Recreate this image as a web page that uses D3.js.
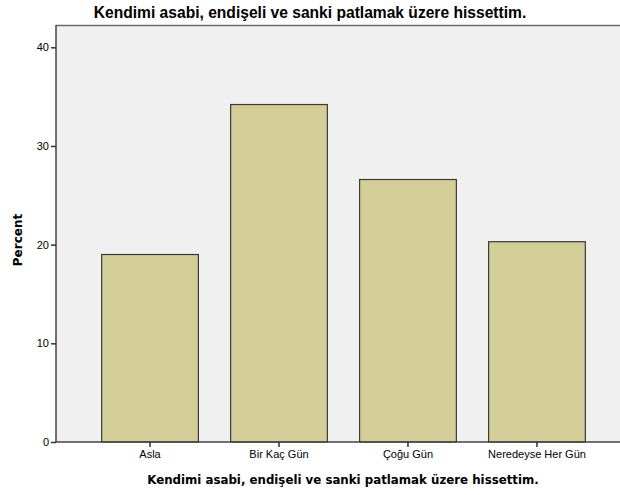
<!DOCTYPE html>
<html>
<head>
<meta charset="utf-8">
<script src="https://cdn.jsdelivr.net/npm/d3@7"></script>
<style>
  body { margin: 0; background: #fff; }
  svg { display: block; }
</style>
</head>
<body>
<svg width="620" height="495"></svg>
<script>
// category labels and percent values
const categories = ['Asla', 'Bir Kaç Gün', 'Çoğu Gün', 'Neredeyse Her Gün'];
const percents = [19.0, 34.2, 26.6, 20.3];
const yTicks = [0, 10, 20, 30, 40];
const title = 'Kendimi asabi, endişeli ve sanki patlamak üzere hissettim.';

const svg = d3.select('svg');

const plot = { left: 56, top: 25, right: 631, bottom: 442 };

const x = d3.scaleBand()
  .domain(categories)
  .range([plot.left, plot.right])
  .paddingInner(0.25)
  .paddingOuter(0.354);

const y = d3.scaleLinear().domain([0, 42.26]).range([plot.bottom, plot.top]);

// plot background
svg.append('rect')
  .attr('x', plot.left)
  .attr('y', plot.top)
  .attr('width', plot.right - plot.left)
  .attr('height', plot.bottom - plot.top)
  .attr('fill', '#f0f0f0');

// top frame line
svg.append('line')
  .attr('x1', plot.left).attr('x2', plot.right)
  .attr('y1', plot.top + 0.5).attr('y2', plot.top + 0.5)
  .attr('stroke', '#6a6a6a').attr('stroke-width', 1.5);

// bars
svg.selectAll('rect.bar')
  .data(percents)
  .enter()
  .append('rect')
  .attr('class', 'bar')
  .attr('x', (d, i) => x(categories[i]))
  .attr('y', (d) => y(d))
  .attr('width', x.bandwidth())
  .attr('height', (d) => y(0) - y(d))
  .attr('fill', '#d3ce97')
  .attr('stroke', '#3a3a3a')
  .attr('stroke-width', 1.2);

// y axis
const yAxis = svg.append('g')
  .attr('transform', `translate(${plot.left},0)`)
  .call(d3.axisLeft(y).tickValues(yTicks).tickSize(5).tickSizeOuter(0).tickPadding(2));

// x axis
const xAxis = svg.append('g')
  .attr('transform', `translate(0,${plot.bottom})`)
  .call(d3.axisBottom(x).tickSize(5).tickSizeOuter(0).tickPadding(3));

[yAxis, xAxis].forEach((g) => {
  g.select('.domain').attr('stroke', '#444').attr('stroke-width', 1.5);
  g.selectAll('.tick line').attr('stroke', '#333').attr('stroke-width', 1.5);
  g.selectAll('.tick text')
    .attr('fill', '#000')
    .style('font-family', '"Liberation Sans", Arial, sans-serif')
    .style('font-size', '11px');
});

// redraw x axis domain across the full plot
xAxis.select('.domain').attr('d', `M${plot.left},0H${plot.right}`);
yAxis.select('.domain').attr('d', `M0,${plot.top}V${plot.bottom}`);

// chart title
svg.append('text')
  .attr('x', 310)
  .attr('y', 18)
  .attr('text-anchor', 'middle')
  .style('font-family', '"Liberation Sans", Arial, sans-serif')
  .style('font-weight', 'bold')
  .style('font-size', '15.6px')
  .text(title);

// x axis title
svg.append('text')
  .attr('x', 343)
  .attr('y', 484)
  .attr('text-anchor', 'middle')
  .style('font-family', '"DejaVu Sans", sans-serif')
  .style('font-weight', 'bold')
  .style('font-size', '11.8px')
  .text(title);

// y axis title
svg.append('text')
  .attr('transform', 'translate(22,240) rotate(-90)')
  .attr('text-anchor', 'middle')
  .style('font-family', '"DejaVu Sans", sans-serif')
  .style('font-weight', 'bold')
  .style('font-size', '12px')
  .text('Percent');
</script>
</body>
</html>
